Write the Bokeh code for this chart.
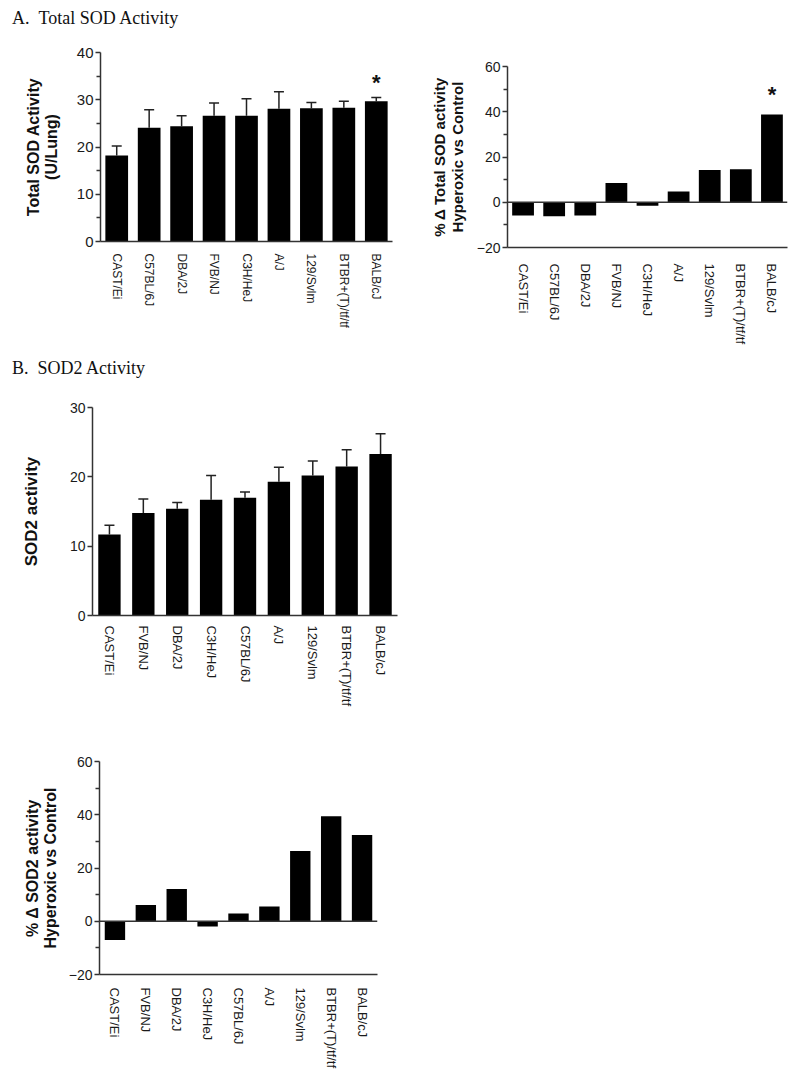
from bokeh.plotting import figure
from bokeh.models import (ColumnDataSource, FactorRange, Range1d, FixedTicker, Whisker,
                          TeeHead, Span, Div)
from bokeh.core.properties import value
from bokeh.embed import file_html
from bokeh.resources import INLINE

# ---------------- data ----------------
strains_a = ["CAST/Ei", "C57BL/6J", "DBA/2J", "FVB/NJ", "C3H/HeJ", "A/J",
             "129/Svlm", "BTBR+(T)/tf/tf", "BALB/cJ"]
total_sod = [18.2, 24.1, 24.4, 26.6, 26.6, 28.1, 28.2, 28.3, 29.7]
total_sod_err = [2.0, 3.8, 2.2, 2.7, 3.6, 3.6, 1.2, 1.4, 0.8]
pct_total_sod = [-5.9, -6.2, -5.9, 8.5, -1.6, 4.7, 14.2, 14.6, 38.8]

strains_b = ["CAST/Ei", "FVB/NJ", "DBA/2J", "C3H/HeJ", "C57BL/6J", "A/J",
             "129/Svlm", "BTBR+(T)/tf/tf", "BALB/cJ"]
sod2 = [11.7, 14.8, 15.4, 16.7, 17.0, 19.3, 20.2, 21.5, 23.3]
sod2_err = [1.3, 2.0, 0.9, 3.5, 0.8, 2.1, 2.1, 2.4, 2.9]
pct_sod2 = [-7.0, 6.1, 12.1, -2.0, 2.9, 5.5, 26.4, 39.4, 32.4]

star_strain = "BALB/cJ"
star_y_a1 = 33.6
star_y_a2 = 47.8

SANS = "Liberation Sans"
AXC = "#333333"
TXT = "#1a1a1a"


def make_fig(name, cats, ymin, ymax, ticks, minor, ylabel, fw, fh,
             bl, bt, br, bb, tick_fs, cat_fs, lab_fs, lab_standoff, cat_standoff):
    p = figure(name=name, x_range=FactorRange(*cats), y_range=Range1d(ymin, ymax),
               frame_width=fw, frame_height=fh, output_backend="svg",
               toolbar_location=None, min_border_left=bl, min_border_top=bt,
               min_border_right=br, min_border_bottom=bb)
    p.outline_line_color = None
    p.xgrid.grid_line_color = None
    p.ygrid.grid_line_color = None
    p.background_fill_color = "white"
    p.border_fill_color = "white"

    p.yaxis.ticker = FixedTicker(ticks=ticks, minor_ticks=minor)
    p.yaxis.axis_line_color = AXC
    p.yaxis.axis_line_width = 1.5
    p.yaxis.major_tick_line_color = AXC
    p.yaxis.major_tick_line_width = 1.5
    p.yaxis.major_tick_out = 5
    p.yaxis.major_tick_in = 0
    p.yaxis.minor_tick_line_color = AXC if minor else None
    p.yaxis.minor_tick_line_width = 1.5
    p.yaxis.minor_tick_out = 4
    p.yaxis.minor_tick_in = 0
    p.yaxis.major_label_text_font = SANS
    p.yaxis.major_label_text_font_size = tick_fs
    p.yaxis.major_label_text_color = TXT
    p.yaxis.major_label_standoff = 2
    p.yaxis.axis_label = ylabel
    p.yaxis.axis_label_text_font = SANS
    p.yaxis.axis_label_text_font_style = "bold"
    p.yaxis.axis_label_text_font_size = lab_fs
    p.yaxis.axis_label_text_line_height = 1.05
    p.yaxis.axis_label_text_color = "#111111"
    p.yaxis.axis_label_standoff = lab_standoff

    p.xaxis.axis_line_color = AXC
    p.xaxis.axis_line_width = 1.5
    p.xaxis.major_tick_line_color = None
    p.xaxis.minor_tick_line_color = None
    p.xaxis.major_label_orientation = "vertical"
    p.xaxis.major_label_text_font = SANS
    p.xaxis.major_label_text_font_size = cat_fs
    p.xaxis.major_label_text_color = TXT
    p.xaxis.major_label_standoff = cat_standoff
    return p


def add_star(p, y):
    p.text(x=[star_strain], y=[y], text=["*"], text_align="center",
           text_baseline="alphabetic", text_font=value(SANS), text_font_style="bold",
           text_font_size="22px", text_color="#111111")


# Panel A1: total SOD activity
p1 = make_fig("pA1", strains_a, 0, 40, [0, 10, 20, 30, 40], [5, 15, 25, 35],
              "Total SOD Activity\n(U/Lung)", 292, 189, 92, 12, 10, 90,
              "15px", "12px", "16px", 14, 6)
src1 = ColumnDataSource(dict(x=strains_a, top=total_sod,
                             upper=[v + e for v, e in zip(total_sod, total_sod_err)]))
p1.add_layout(Whisker(source=src1, base="x", lower="top", upper="upper",
                      line_color="#222222", line_width=1.5,
                      upper_head=TeeHead(size=10, line_color="#222222", line_width=1.5),
                      lower_head=None, level="underlay"))
p1.vbar(x="x", top="top", width=0.7, source=src1, fill_color="black", line_color=None)
add_star(p1, star_y_a1)

# Panel A2: % change total SOD
p2 = make_fig("pA2", strains_a, -20, 60, [-20, 0, 20, 40, 60], [-10, 10, 30, 50],
              "% \u0394 Total SOD activity\nHyperoxic vs Control", 280, 181, 97, 26, 5, 92,
              "14px", "13px", "15px", 8, 10)
src2 = ColumnDataSource(dict(x=strains_a, top=pct_total_sod))
p2.vbar(x="x", top="top", bottom=0, width=0.7, source=src2, fill_color="black",
        line_color=None)
p2.add_layout(Span(location=0, dimension="width", line_color=AXC, line_width=1.5))
add_star(p2, star_y_a2)

# Panel B1: SOD2 activity
p3 = make_fig("pB1", strains_b, 0, 30, [0, 10, 20, 30], [],
              "SOD2 activity", 305, 208, 84, 22, 10, 95,
              "14px", "13px", "17px", 26, 4)
src3 = ColumnDataSource(dict(x=strains_b, top=sod2,
                             upper=[v + e for v, e in zip(sod2, sod2_err)]))
p3.add_layout(Whisker(source=src3, base="x", lower="top", upper="upper",
                      line_color="#222222", line_width=1.5,
                      upper_head=TeeHead(size=10, line_color="#222222", line_width=1.5),
                      lower_head=None, level="underlay"))
p3.vbar(x="x", top="top", width=0.66, source=src3, fill_color="black", line_color=None)

# Panel B2: % change SOD2
p4 = make_fig("pB2", strains_b, -20, 60, [-20, 0, 20, 40, 60], [-10, 10, 30, 50],
              "% \u0394 SOD2 activity\nHyperoxic vs Control", 278, 213, 91, 49, 10, 94,
              "14px", "13px", "16px", 7, 7)
src4 = ColumnDataSource(dict(x=strains_b, top=pct_sod2))
p4.vbar(x="x", top="top", bottom=0, width=0.66, source=src4, fill_color="black",
        line_color=None)
p4.add_layout(Span(location=0, dimension="width", line_color=AXC, line_width=1.5))

title_style = ("font-family:'Liberation Serif';font-size:18px;color:#111;"
               "white-space:nowrap;margin:0;padding:0;line-height:22px;")
divA = Div(name="divA", text=f'<div style="{title_style}">A.&nbsp;&nbsp;Total SOD Activity</div>',
           width=300, height=24)
divB = Div(name="divB", text=f'<div style="{title_style}">B.&nbsp;&nbsp;SOD2 Activity</div>',
           width=300, height=24)

TEMPLATE = """
{% block contents %}
<div style="position:absolute;left:7px;top:2px;">{{ embed(roots.divA) }}</div>
<div style="position:absolute;left:8px;top:40px;">{{ embed(roots.pA1) }}</div>
<div style="position:absolute;left:410px;top:40px;">{{ embed(roots.pA2) }}</div>
<div style="position:absolute;left:7px;top:352px;">{{ embed(roots.divB) }}</div>
<div style="position:absolute;left:8px;top:385px;">{{ embed(roots.pB1) }}</div>
<div style="position:absolute;left:8px;top:712px;">{{ embed(roots.pB2) }}</div>
{% endblock %}
"""

p = [divA, p1, p2, divB, p3, p4]
open("out.html", "w").write(file_html(p, INLINE, template=TEMPLATE))
